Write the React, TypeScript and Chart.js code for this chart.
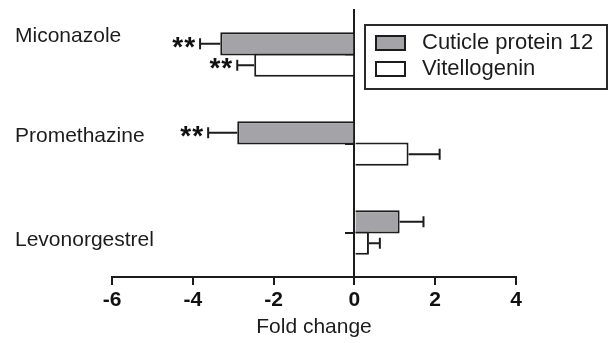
import React, { useEffect, useRef } from 'react';
import { Chart, registerables } from 'chart.js';

Chart.register(...registerables);

// ---- data ----
const categories = ['Miconazole', 'Promethazine', 'Levonorgestrel'];
const seriesNames = ['Cuticle protein 12', 'Vitellogenin'];
const cuticleValues = [-3.32, -2.9, 1.12];
const cuticleErrors = [0.5, 0.72, 0.59];
const cuticleSignificance = ['**', '**', ''];
const vitellogeninValues = [-2.48, 1.34, 0.36];
const vitellogeninErrors = [0.42, 0.77, 0.27];
const vitellogeninSignificance = ['**', '', ''];
const xTicks = [-6, -4, -2, 0, 2, 4];
const xTitle = 'Fold change';

const FONT = '"Liberation Sans", Arial, Helvetica, sans-serif';
const INK = '#1c1c1c';
const GRAY = '#a4a4a8';

const errorsBySeries = [cuticleErrors, vitellogeninErrors];
const sigBySeries = [cuticleSignificance, vitellogeninSignificance];

const errorBarPlugin = {
  id: 'errorBars',
  afterDatasetsDraw(chart: any) {
    const ctx = chart.ctx;
    const xs = chart.scales.x;
    chart.data.datasets.forEach((ds: any, di: number) => {
      const meta = chart.getDatasetMeta(di);
      meta.data.forEach((bar: any, i: number) => {
        const v = ds.data[i] as number;
        const e = errorsBySeries[di][i];
        const end = v + Math.sign(v) * e;
        const x0 = xs.getPixelForValue(v);
        const x1 = xs.getPixelForValue(end);
        const y = bar.y;
        const h = 5.5;
        ctx.save();
        ctx.strokeStyle = INK;
        ctx.lineWidth = 2;
        ctx.beginPath();
        ctx.moveTo(x0, y);
        ctx.lineTo(x1, y);
        ctx.moveTo(x1, y - h);
        ctx.lineTo(x1, y + h);
        ctx.stroke();
        const sig = sigBySeries[di][i];
        if (sig) {
          ctx.font = `bold 28px ${FONT}`;
          ctx.fillStyle = '#111';
          ctx.textAlign = v < 0 ? 'right' : 'left';
          ctx.textBaseline = 'alphabetic';
          (ctx as any).letterSpacing = '1px';
          ctx.fillText(sig, x1 + (v < 0 ? -4 : 4), y + 12);
        }
        ctx.restore();
      });
    });
  },
};

const boxLegendPlugin = {
  id: 'boxLegend',
  afterDraw(chart: any) {
    const ctx = chart.ctx;
    const left = 365;
    const top = 25;
    const right = 607;
    const bottom = 89;
    ctx.save();
    ctx.strokeStyle = '#2a2a2a';
    ctx.lineWidth = 2;
    ctx.fillStyle = '#fff';
    ctx.fillRect(left, top, right - left, bottom - top);
    ctx.strokeRect(left, top, right - left, bottom - top);
    chart.data.datasets.forEach((ds: any, i: number) => {
      const sy = top + 11 + i * 26;
      ctx.fillStyle = ds.backgroundColor;
      ctx.fillRect(376, sy, 29, 14);
      ctx.strokeStyle = INK;
      ctx.strokeRect(376, sy, 29, 14);
      ctx.fillStyle = INK;
      ctx.font = `22px ${FONT}`;
      ctx.textAlign = 'left';
      ctx.textBaseline = 'middle';
      ctx.fillText(ds.label, 422, sy + 7);
    });
    ctx.restore();
  },
};

const labelShift = [-18, -7, 8];

export default function App() {
  const ref = useRef<HTMLCanvasElement | null>(null);
  useEffect(() => {
    if (!ref.current) return;
    const chart = new Chart(ref.current, {
      type: 'bar',
      data: {
        labels: categories,
        datasets: [
          {
            label: seriesNames[0],
            data: cuticleValues,
            backgroundColor: GRAY,
            borderColor: INK,
            borderWidth: 2,
            borderSkipped: 'start',
          },
          {
            label: seriesNames[1],
            data: vitellogeninValues,
            backgroundColor: '#ffffff',
            borderColor: INK,
            borderWidth: 2,
            borderSkipped: 'start',
          },
        ],
      },
      options: {
        indexAxis: 'y',
        animation: false,
        responsive: true,
        maintainAspectRatio: false,
        layout: { padding: { top: 10, right: 92, left: 0, bottom: 0 } },
        datasets: { bar: { categoryPercentage: 0.48, barPercentage: 1.094 } },
        plugins: { legend: { display: false }, tooltip: { enabled: false } },
        scales: {
          x: {
            type: 'linear',
            min: xTicks[0],
            max: xTicks[xTicks.length - 1],
            ticks: {
              stepSize: xTicks[1] - xTicks[0],
              font: { family: FONT, size: 21, weight: 'bold' },
              color: '#111',
              padding: 3,
            },
            grid: {
              drawOnChartArea: false,
              drawTicks: true,
              tickLength: 8,
              color: INK,
              lineWidth: 2,
            },
            border: { display: true, color: INK, width: 2 },
            title: {
              display: true,
              text: xTitle,
              font: { family: FONT, size: 21 },
              color: INK,
              padding: { top: 0, bottom: 3 },
            },
            afterFit(s: any) {
              s.height = 66;
            },
          },
          y: {
            type: 'category',
            position: 'left',
            offset: true,
            grid: { display: false },
            border: { display: false },
            ticks: {
              mirror: true,
              padding: -97,
              crossAlign: 'near',
              color: INK,
              font: (c: any) => ({
                family: FONT,
                size: 21,
                lineHeight: `${Math.max(1, Math.abs(labelShift[c.index] || 0) * 2)}px`,
              }),
              callback: (_v: any, i: number) => {
                const s = labelShift[i] || 0;
                if (s < 0) return [categories[i], ''];
                if (s > 0) return ['', categories[i]];
                return categories[i];
              },
            },
            afterFit(s: any) {
              s.width = 112;
            },
          },
          y2: {
            type: 'category',
            axis: 'y',
            position: { x: 0 },
            offset: true,
            z: 1,
            grid: {
              offset: false,
              drawOnChartArea: false,
              drawTicks: true,
              tickLength: 8,
              color: INK,
              lineWidth: 2,
            },
            border: { display: true, color: INK, width: 2 },
            ticks: { display: false },
          },
        } as any,
      },
      plugins: [errorBarPlugin, boxLegendPlugin],
    } as any);
    return () => chart.destroy();
  }, []);
  return (
    <div style={{ position: 'absolute', left: 0, top: 0, width: 608, height: 343, background: '#fff' }}>
      <canvas ref={ref} />
    </div>
  );
}
